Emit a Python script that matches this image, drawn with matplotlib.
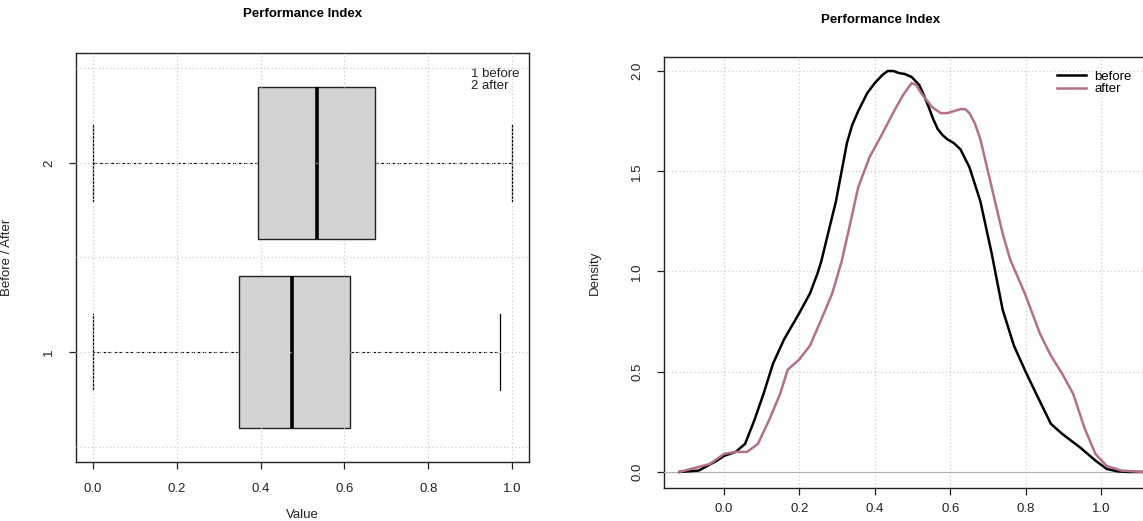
import matplotlib
matplotlib.use("Agg")
import matplotlib.pyplot as plt

plt.rcParams['font.family'] = ['Liberation Sans', 'DejaVu Sans']

# ---------------- data ----------------
title = "Performance Index"
box_labels = ["1", "2"]
whislo = [0.0, 0.0]
q1 = [0.348, 0.395]
med = [0.476, 0.534]
q3 = [0.614, 0.674]
whishi = [0.970, 1.0]

before_x = [-0.118, -0.067, -0.018, 0.0, 0.031, 0.056, 0.081, 0.105, 0.130, 0.159, 0.199,
            0.228, 0.248, 0.258, 0.280, 0.297, 0.326, 0.340, 0.356, 0.380, 0.400, 0.420,
            0.434, 0.450, 0.464, 0.480, 0.498, 0.518, 0.530, 0.543, 0.555, 0.567, 0.580,
            0.592, 0.610, 0.627, 0.651, 0.680, 0.710, 0.739, 0.769, 0.800, 0.828,
            0.867, 0.897, 0.946, 0.985, 1.015, 1.044, 1.07, 1.16]
before_y = [0.0, 0.007, 0.057, 0.08, 0.10, 0.14, 0.26, 0.39, 0.54, 0.66, 0.79,
            0.89, 0.99, 1.05, 1.22, 1.35, 1.64, 1.73, 1.80, 1.89, 1.94, 1.98,
            2.0, 2.0, 1.99, 1.985, 1.97, 1.93, 1.88, 1.82, 1.76, 1.71, 1.68,
            1.66, 1.64, 1.61, 1.52, 1.35, 1.09, 0.81, 0.63, 0.50, 0.39,
            0.24, 0.19, 0.12, 0.057, 0.015, 0.003, 0.0, 0.0]
after_x = [-0.118, -0.037, 0.0, 0.031, 0.061, 0.090, 0.120, 0.149, 0.169, 0.199, 0.228,
           0.258, 0.287, 0.312, 0.336, 0.356, 0.386, 0.415, 0.454, 0.475, 0.490, 0.498,
           0.510, 0.523, 0.552, 0.575, 0.592, 0.610, 0.627, 0.640, 0.651, 0.665, 0.680,
           0.710, 0.739, 0.759, 0.798, 0.838, 0.867, 0.897, 0.926, 0.956, 0.985,
           1.015, 1.054, 1.11, 1.16]
after_y = [0.0, 0.04, 0.09, 0.10, 0.10, 0.14, 0.26, 0.39, 0.51, 0.56, 0.63,
           0.76, 0.89, 1.05, 1.25, 1.42, 1.57, 1.67, 1.81, 1.88, 1.92, 1.94,
           1.93, 1.89, 1.82, 1.79, 1.79, 1.80, 1.81, 1.81, 1.79, 1.74, 1.66,
           1.42, 1.19, 1.06, 0.89, 0.69, 0.58, 0.49, 0.39, 0.22, 0.09,
           0.03, 0.007, 0.0, 0.0]
series_names = ["before", "after"]
series_colors = ["black", "#b3708a"]

# ---------------- figure ----------------
W, H = 1143, 521
fig = plt.figure(figsize=(W / 100, H / 100), dpi=100)


def px_axes(l, t, r, b):
    return fig.add_axes([l / W, 1 - b / H, (r - l) / W, (b - t) / H])


grid_kw = dict(color="#cfcfcf", linestyle=(0, (1, 2)), linewidth=0.9)
tick_kw = dict(labelsize=9.5, length=5, width=0.9, pad=10, colors="#222222")

# ---- left: boxplot ----
ax1 = px_axes(76, 53, 529, 462)
stats = [dict(label=lab, whislo=a, q1=b, med=c, q3=d, whishi=e)
         for lab, a, b, c, d, e in zip(box_labels, whislo, q1, med, q3, whishi)]
ax1.bxp(stats, positions=[1, 2], vert=False, widths=0.8, patch_artist=True,
        showfliers=False,
        boxprops=dict(facecolor="#d3d3d3", edgecolor="#222222", linewidth=1.0),
        medianprops=dict(color="black", linewidth=2.6),
        whiskerprops=dict(color="black", linestyle=(0, (3, 2)), linewidth=0.8),
        capprops=dict(color="black", linewidth=0.9), capwidths=0.4)
ax1.set_xlim(-0.04, 1.04)
ax1.set_ylim(0.42, 2.58)
ax1.set_xticks([0.0, 0.2, 0.4, 0.6, 0.8, 1.0])
ax1.set_xticklabels(["0.0", "0.2", "0.4", "0.6", "0.8", "1.0"])
ax1.set_yticks([1, 2])
ax1.set_yticklabels(box_labels, rotation=90, va="center")
for gx in [0.0, 0.2, 0.4, 0.6, 0.8, 1.0]:
    ax1.axvline(gx, zorder=5, **grid_kw)
for gy in [0.5, 1.0, 1.5, 2.0, 2.5]:
    ax1.axhline(gy, zorder=5, **grid_kw)
ax1.tick_params(**tick_kw)
ax1.set_xlabel("Value", fontsize=9.5, labelpad=10, color="#222222")
ax1.set_ylabel("Before / After", fontsize=9.5, labelpad=22, color="#222222")
ax1.set_title(title, fontsize=9.5, fontweight="bold", pad=26)
ax1.text(0.902, 2.50, "1 before\n2 after", fontsize=9.5, va="top", ha="left",
         linespacing=1.0, color="#222222")
for s in ax1.spines.values():
    s.set_linewidth(1.0)
    s.set_color("#222222")

# ---- right: density ----
ax2 = px_axes(664, 57, 1161, 488)
for xs, ys, name, col in zip([before_x, after_x], [before_y, after_y],
                             series_names, series_colors):
    ax2.plot(xs, ys, color=col, linewidth=1.8, label=name, zorder=4,
             solid_joinstyle="round")
ax2.axhline(0, color="#b0b0b0", linewidth=0.8, zorder=3)
ax2.set_xlim(-0.159, 1.159)
ax2.set_ylim(-0.08, 2.07)
ax2.set_xticks([0.0, 0.2, 0.4, 0.6, 0.8, 1.0])
ax2.set_xticklabels(["0.0", "0.2", "0.4", "0.6", "0.8", "1.0"])
ax2.set_yticks([0.0, 0.5, 1.0, 1.5, 2.0])
ax2.set_yticklabels(["0.0", "0.5", "1.0", "1.5", "2.0"], rotation=90, va="center")
for gx in [0.0, 0.2, 0.4, 0.6, 0.8, 1.0]:
    ax2.axvline(gx, zorder=1, **grid_kw)
for gy in [0.0, 0.5, 1.0, 1.5, 2.0]:
    ax2.axhline(gy, zorder=1, **grid_kw)
ax2.tick_params(**tick_kw)
ax2.tick_params(axis="x", pad=6)
ax2.set_ylabel("Density", fontsize=9.5, labelpad=22, color="#222222")
fig.text(881 / W, 1 - 20 / H, title, fontsize=9.5, fontweight="bold",
         ha="center", va="center")
leg = ax2.legend(loc="upper left", bbox_to_anchor=((1052 - 664) / 497, 1.0 - 8 / 431),
                 frameon=False, fontsize=9.5, handlelength=2.2, handletextpad=0.6,
                 labelspacing=0.05, borderaxespad=0)
for s in ax2.spines.values():
    s.set_linewidth(1.0)
    s.set_color("#222222")

fig.savefig("out.png", dpi=100)
